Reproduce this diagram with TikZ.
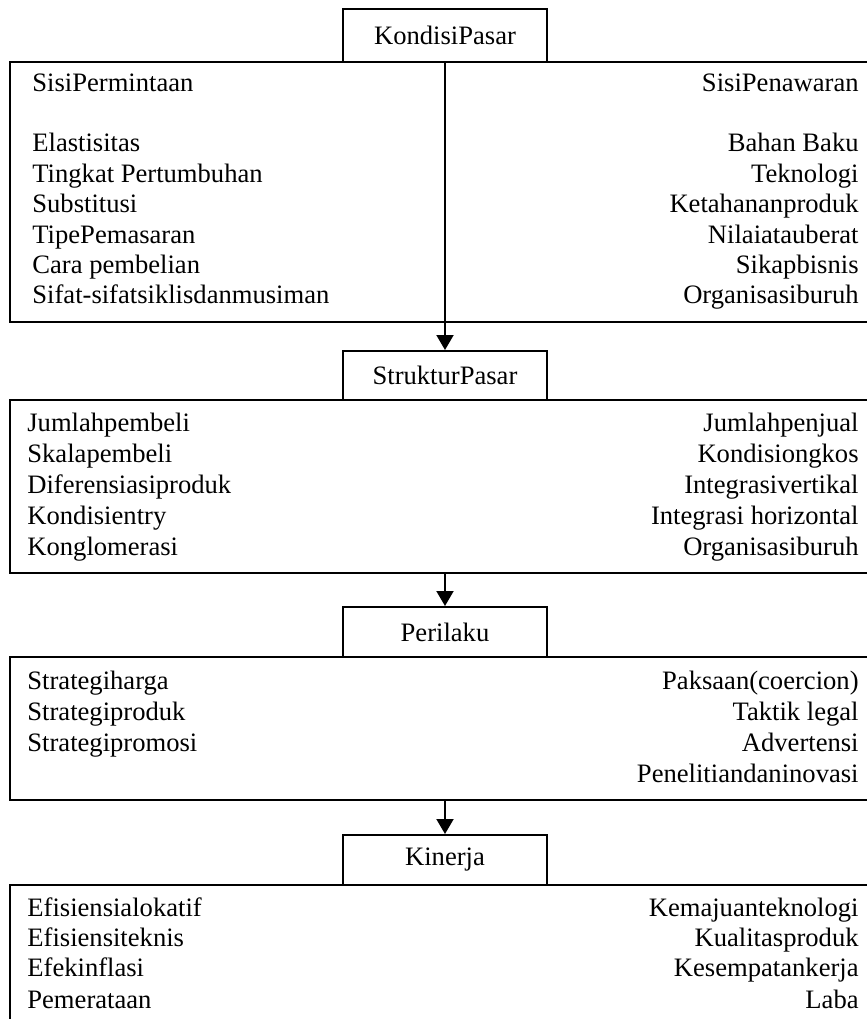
\documentclass[tikz,border=0pt]{standalone}
\usepackage{fontspec}
\setmainfont{Liberation Serif}
\usetikzlibrary{arrows.meta}

\begin{document}
\begin{tikzpicture}
[x=0.5pt,y=-0.5pt,
 txt/.style={inner sep=0pt,text height=9pt,text depth=3pt,font=\fontsize{13.3}{15}\selectfont},
 le/.style={txt,anchor=west},
 ri/.style={txt,anchor=east},
 bigbox/.style={draw,line width=1pt,minimum width=435pt,inner sep=0pt},
 head/.style={draw,fill=white,line width=1pt,minimum width=102pt,inner sep=0pt,font=\fontsize{13.3}{15}\selectfont},
 arr/.style={line width=1pt,-{Triangle[length=7.5pt,width=8.5pt]}}]
\useasboundingbox (0,0) rectangle (867,1019);

\node[bigbox,minimum height=130pt] (b1) at (445,192) {};
\node[bigbox,minimum height=86.5pt] (b2) at (445,486.5) {};
\node[bigbox,minimum height=71.5pt] (b3) at (445,728.5) {};
\node[bigbox,minimum height=77.5pt] (b4) at (445,962.5) {};

\node[head,minimum height=26.5pt] (h1) at (445,35.5) {KondisiPasar};
\node[head,minimum height=24.5pt] (h2) at (445,375.5) {StrukturPasar};
\node[head,minimum height=25pt] (h3) at (445,632) {Perilaku};
\node[head,minimum height=25pt] (h4) at (445,860) {Kinerja};

\node[le] (l1) at (32,85) {SisiPermintaan};
\node[le] (l2) at (32,145) {Elastisitas};
\node[le] (l3) at (32,176) {Tingkat Pertumbuhan};
\node[le] (l4) at (32,206) {Substitusi};
\node[le] (l5) at (32,237) {TipePemasaran};
\node[le] (l6) at (32,267) {Cara pembelian};
\node[le] (l7) at (32,297) {Sifat-sifatsiklisdanmusiman};
\node[ri] (r1) at (859,85) {SisiPenawaran};
\node[ri] (r2) at (859,145) {Bahan Baku};
\node[ri] (r3) at (859,176) {Teknologi};
\node[ri] (r4) at (859,206) {Ketahananproduk};
\node[ri] (r5) at (859,237) {Nilaiatauberat};
\node[ri] (r6) at (859,267) {Sikapbisnis};
\node[ri] (r7) at (859,297) {Organisasiburuh};

\node[le] (l8) at (27,425) {Jumlahpembeli};
\node[le] (l9) at (27,456) {Skalapembeli};
\node[le] (l10) at (27,487) {Diferensiasiproduk};
\node[le] (l11) at (27,518) {Kondisientry};
\node[le] (l12) at (27,549) {Konglomerasi};
\node[ri] (r8) at (859,425) {Jumlahpenjual};
\node[ri] (r9) at (859,456) {Kondisiongkos};
\node[ri] (r10) at (859,487) {Integrasivertikal};
\node[ri] (r11) at (859,518) {Integrasi horizontal};
\node[ri] (r12) at (859,549) {Organisasiburuh};

\node[le] (l13) at (27,683) {Strategiharga};
\node[le] (l14) at (27,714) {Strategiproduk};
\node[le] (l15) at (27,745) {Strategipromosi};
\node[ri] (r13) at (859,683) {Paksaan(coercion)};
\node[ri] (r14) at (859,714) {Taktik legal};
\node[ri] (r15) at (859,745) {Advertensi};
\node[ri] (r16) at (859,776) {Penelitiandaninovasi};

\node[le] (l16) at (27,910) {Efisiensialokatif};
\node[le] (l17) at (27,940) {Efisiensiteknis};
\node[le] (l18) at (27,970) {Efekinflasi};
\node[le] (l19) at (27,1002) {Pemerataan};
\node[ri] (r17) at (859,910) {Kemajuanteknologi};
\node[ri] (r18) at (859,940) {Kualitasproduk};
\node[ri] (r19) at (859,970) {Kesempatankerja};
\node[ri] (r20) at (859,1002) {Laba};

\foreach \from/\to in {h1/h2,b2/h3,b3/h4}
\draw[arr] (\from.south -| \to.north) -- (\to.north);
\end{tikzpicture}
\end{document}
